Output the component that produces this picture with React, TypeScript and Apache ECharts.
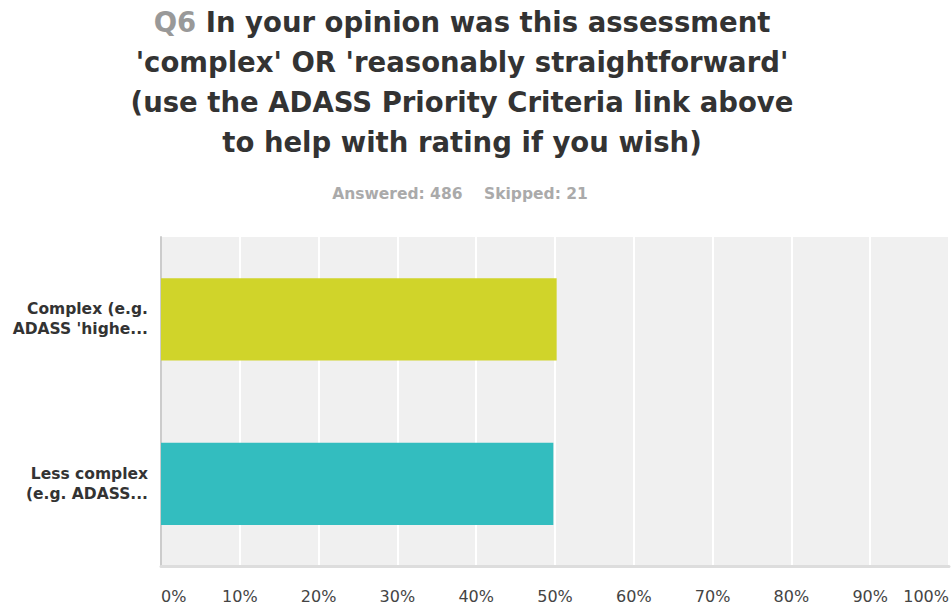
import React, { useEffect, useRef } from "react";
import * as echarts from "echarts";

const categories = ["Complex (e.g.\nADASS 'highe...", "Less complex\n(e.g. ADASS..."];
const values = [50.21, 49.79];
const barColors = ["#d0d42a", "#33bdbf"];
const xTicks = [0, 10, 20, 30, 40, 50, 60, 70, 80, 90, 100];
const titleLines = [
  "{q|Q6} In your opinion was this assessment",
  "'complex' OR 'reasonably straightforward'",
  "(use the ADASS Priority Criteria link above",
  "to help with rating if you wish)",
];
const subtitleText = "Answered: 486    Skipped: 21";

export default function App() {
  const ref = useRef<HTMLDivElement>(null);
  useEffect(() => {
    if (!ref.current) return;
    const chart = echarts.init(ref.current, null, { renderer: "svg" });
    const font = "'DejaVu Sans', Verdana, sans-serif";
    chart.setOption({
      animation: false,
      title: [
        {
          text: titleLines.join("\n"),
          left: 462,
          top: 2,
          padding: 0,
          textAlign: "center",
          textStyle: {
            fontFamily: font,
            fontWeight: "bold",
            fontSize: 27.5,
            lineHeight: 40,
            color: "#333333",
            rich: {
              q: {
                fontFamily: font,
                fontWeight: "bold",
                fontSize: 27.5,
                lineHeight: 40,
                color: "#999999",
              },
            },
          },
        },
        {
          text: subtitleText,
          left: 460,
          top: 186,
          padding: 0,
          textAlign: "center",
          textStyle: {
            fontFamily: font,
            fontWeight: "bold",
            fontSize: 15.5,
            lineHeight: 16,
            color: "#aaaaaa",
          },
        },
      ],
      grid: {
        left: 161,
        right: 2,
        top: 237,
        bottom: 41,
        show: true,
        backgroundColor: "#f0f0f0",
        borderWidth: 0,
        containLabel: false,
        outerBoundsMode: "none",
      },
      xAxis: {
        type: "value",
        min: 0,
        max: 100,
        interval: 10,
        axisLine: { show: true, lineStyle: { color: "#dddddd", width: 3 } },
        axisTick: { show: false },
        splitLine: { show: true, lineStyle: { color: "#ffffff", width: 2 } },
        axisLabel: {
          formatter: (v: number) => (xTicks.includes(v) ? v + "%" : ""),
          fontFamily: font,
          fontSize: 16,
          color: "#444444",
          margin: 22,
          alignMinLabel: "left",
          alignMaxLabel: "right",
        },
      },
      yAxis: {
        type: "category",
        inverse: true,
        data: categories,
        axisLine: { show: true, lineStyle: { color: "#cccccc", width: 2 } },
        axisTick: { show: false },
        splitLine: { show: false },
        axisLabel: {
          fontFamily: font,
          fontWeight: "bold",
          fontSize: 15.5,
          lineHeight: 20,
          color: "#333333",
          margin: 13,
          align: "right",
        },
      },
      series: [
        {
          type: "bar",
          barWidth: "50%",
          data: values.map((v, i) => ({ value: v, itemStyle: { color: barColors[i] } })),
          silent: true,
        },
      ],
    });
    return () => chart.dispose();
  }, []);
  return (
    <div
      ref={ref}
      style={{ position: "absolute", left: 0, top: 0, width: 951, height: 607, background: "#ffffff" }}
    />
  );
}
